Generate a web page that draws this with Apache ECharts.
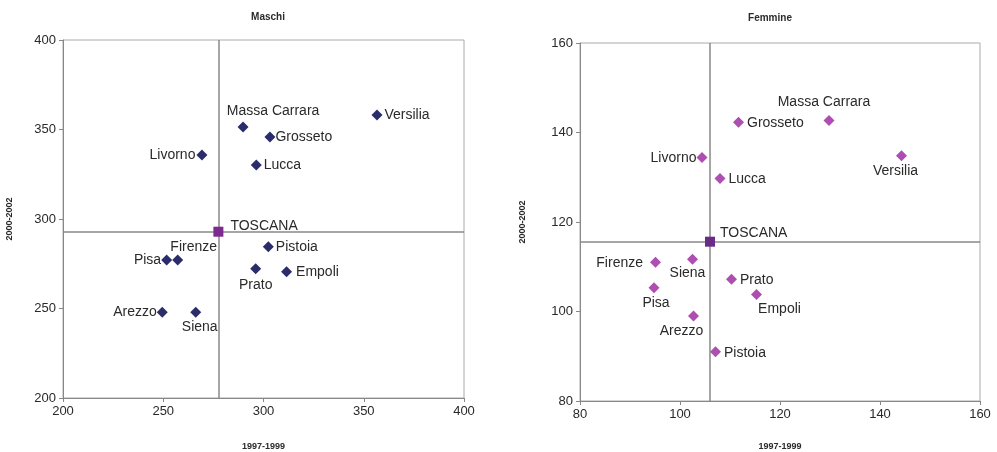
<!DOCTYPE html>
<html>
<head>
<meta charset="utf-8">
<script src="https://cdn.jsdelivr.net/npm/echarts@6/dist/echarts.min.js"></script>
<style>
html,body{margin:0;padding:0;background:#fff;}
#c{width:997px;height:452px;}
</style>
</head>
<body>
<div id="c"></div>
<script>
// ---- data ----
const provinces = ["Massa Carrara","Grosseto","Versilia","Livorno","Lucca","Pistoia","Firenze","Pisa","Prato","Empoli","Arezzo","Siena"];
const maschiX = [289.8, 303.2, 356.6, 269.3, 296.4, 302.4, 257.2, 251.7, 296.1, 311.5, 249.5, 266.2];
const maschiY = [351.4, 345.8, 358.1, 335.8, 330.2, 284.5, 277.1, 277.1, 272.2, 270.5, 247.9, 247.9];
const maschiToscana = [277.5, 292.9];
const femmineX = [129.8, 111.7, 144.3, 104.4, 108.0, 107.1, 95.1, 94.8, 110.3, 115.3, 102.7, 102.5];
const femmineY = [142.7, 142.3, 134.8, 134.4, 129.7, 91.0, 111.0, 105.3, 107.2, 103.8, 99.0, 111.7];
const femmineToscana = [106.0, 115.6];
const maschiTicks = {min:200, max:400, interval:50};
const femmineTicks = {min:80, max:160, interval:20};
const titles = ["Maschi","Femmine"];
const xName = "1997-1999";
const yName = "2000-2002";

// ---- label placement (style) ----
const lblM = {
  "Massa Carrara":{position:'top',offset:[30,0]},
  "Grosseto":{position:'right',offset:[-3,0]},
  "Versilia":{position:'right',offset:[-1,0]},
  "Livorno":{position:'left',offset:[2,0]},
  "Lucca":{position:'right',offset:[-1,0]},
  "Pistoia":{position:'right',offset:[-1,0]},
  "Firenze":{position:'top',offset:[16,3]},
  "Pisa":{position:'left',offset:[3,0]},
  "Prato":{position:'bottom',offset:[0,1]},
  "Empoli":{position:'right',offset:[1,0]},
  "Arezzo":{position:'left',offset:[3,0]},
  "Siena":{position:'bottom',offset:[4,-1]}
};
const lblF = {
  "Massa Carrara":{position:'top',offset:[-5,-3]},
  "Grosseto":{position:'right',offset:[0,1]},
  "Versilia":{position:'bottom',offset:[-6,0]},
  "Livorno":{position:'left',offset:[3,1]},
  "Lucca":{position:'right',offset:[0,1]},
  "Pistoia":{position:'right',offset:[0,1]},
  "Firenze":{position:'left',offset:[-4,1]},
  "Pisa":{position:'bottom',offset:[2,0]},
  "Prato":{position:'right',offset:[0,1]},
  "Empoli":{position:'bottom',offset:[23,-1]},
  "Arezzo":{position:'bottom',offset:[-12,0]},
  "Siena":{position:'bottom',offset:[-5,-2]}
};

const FONT = "Liberation Sans, Arial, sans-serif";
const TXT = '#2a2a2a';
const chart = echarts.init(document.getElementById('c'));

function axisCommon(){
  return {
    type:'value',
    axisLine:{show:true,onZero:false,lineStyle:{color:'#888',width:1}},
    axisTick:{show:true,inside:false,length:4,lineStyle:{color:'#888'}},
    splitLine:{show:false},
    axisLabel:{color:TXT,fontFamily:FONT,fontSize:13,margin:7},
    nameTextStyle:{color:TXT,fontFamily:FONT,fontSize:9,fontWeight:'bold'}
  };
}
function mk(ticks, i){
  const x = Object.assign(axisCommon(), {gridIndex:i, min:ticks.min, max:ticks.max, interval:ticks.interval,
    name:xName, nameLocation:'middle', nameGap:i===0?44:41});
  const y = Object.assign(axisCommon(), {gridIndex:i, min:ticks.min, max:ticks.max, interval:ticks.interval,
    name:yName, nameLocation:'middle', nameGap: i===0?49:53});
  return [x,y];
}
const [x0,y0] = mk(maschiTicks,0);
const [x1,y1] = mk(femmineTicks,1);

function pts(xs, ys, lbl){
  return provinces.map((n,k)=>({name:n, value:[xs[k],ys[k]], label:lbl[n]}));
}
function seriesFor(i, xs, ys, tosc, lbl, col, tcol){
  return [
    {type:'scatter', xAxisIndex:i, yAxisIndex:i, data:[], silent:true,
     markLine:{silent:true, z:1, symbol:'none', label:{show:false}, lineStyle:{color:'#888',width:1.5,type:'solid'},
       data:[{xAxis:tosc[0]},{yAxis:tosc[1]}]},
     z:1},
    {type:'scatter', xAxisIndex:i, yAxisIndex:i, symbol:'diamond', symbolSize:11,
     itemStyle:{color:col, opacity:1}, data:pts(xs,ys,lbl),
     label:{show:true, formatter:'{b}', color:TXT, fontFamily:FONT, fontSize:14, distance:3},
     z:3},
    {type:'scatter', xAxisIndex:i, yAxisIndex:i, symbol:'rect', symbolSize:10,
     itemStyle:{color:tcol, opacity:1}, data:[{name:'TOSCANA', value:tosc}],
     label:{show:true, formatter:'{b}', position:'right', offset:i===0?[2,-6]:[0,-9], color:TXT, fontFamily:FONT, fontSize:14},
     z:6}
  ];
}

chart.setOption({
  animation:false,
  title:[
    {text:titles[0], left:263, top:7, textAlign:'center', textStyle:{fontFamily:FONT,fontSize:10,fontWeight:'bold',color:TXT}},
    {text:titles[1], left:765, top:8, textAlign:'center', textStyle:{fontFamily:FONT,fontSize:10,fontWeight:'bold',color:TXT}}
  ],
  grid:[
    {left:63, top:40, width:401, height:358, outerBoundsMode:'none', containLabel:false, show:true, borderColor:'#aaa', borderWidth:1, backgroundColor:'transparent'},
    {left:580, top:43, width:400, height:358, outerBoundsMode:'none', containLabel:false, show:true, borderColor:'#aaa', borderWidth:1, backgroundColor:'transparent'}
  ],
  xAxis:[x0,x1],
  yAxis:[y0,y1],
  series:[
    ...seriesFor(0, maschiX, maschiY, maschiToscana, lblM, '#2b2d6b', '#7d2a8e'),
    ...seriesFor(1, femmineX, femmineY, femmineToscana, lblF, '#ad4eb0', '#6a2a88')
  ]
});
</script>
</body>
</html>
